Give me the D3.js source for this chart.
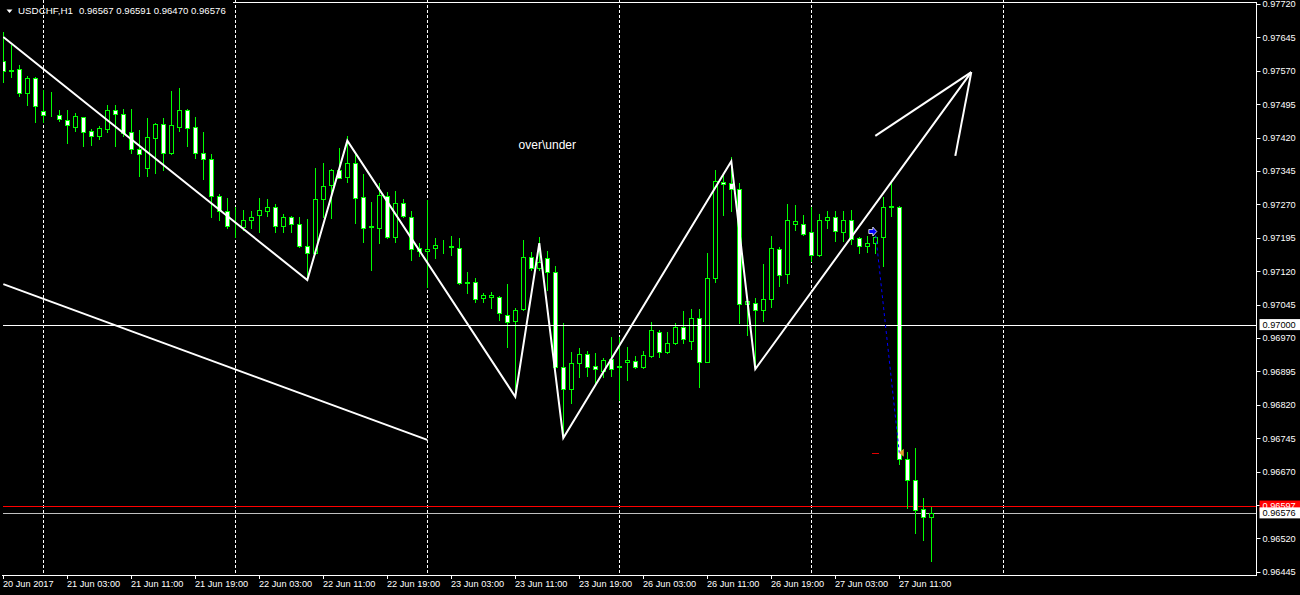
<!DOCTYPE html>
<html><head><meta charset="utf-8">
<script src="https://cdn.jsdelivr.net/npm/d3@7"></script>
<style>html,body{margin:0;padding:0;background:#000;overflow:hidden}</style>
</head><body>
<svg id="c" width="1300" height="595"></svg>
<script>
// ---------- DATA ----------
const symbolTitle = "USDCHF,H1";
const titleOHLC = "0.96567 0.96591 0.96470 0.96576";

const opens = [0.97592,0.97570,0.97574,0.97520,0.97554,0.97480,0.97470,0.97471,0.97459,0.97444,
0.97466,0.97434,0.97424,0.97440,0.97481,0.97472,0.97432,0.97394,0.97352,0.97420,
0.97450,0.97386,0.97444,0.97481,0.97443,0.97385,0.97371,0.97289,0.97254,0.97221,
0.97220,0.97236,0.97245,0.97256,0.97263,0.97222,0.97242,0.97225,0.97177,0.97160,
0.97281,0.97313,0.97347,0.97331,0.97364,0.97286,0.97220,0.97216,0.97289,0.97196,
0.97272,0.97242,0.97171,0.97165,0.97171,0.97176,0.97175,0.97171,0.97094,0.97096,
0.97059,0.97063,0.97061,0.97022,0.97009,0.97034,0.97152,0.97127,0.97149,0.97117,
0.96905,0.96855,0.96913,0.96933,0.96907,0.96896,0.96922,0.96905,0.96915,0.96919,
0.96904,0.96930,0.96984,0.96938,0.96958,0.96994,0.96964,0.97014,0.96917,0.97104,
0.97321,0.97317,0.97304,0.97046,0.97049,0.97033,0.97057,0.97169,0.97113,0.97227,
0.97227,0.97209,0.97156,0.97236,0.97241,0.97207,0.97236,0.97194,0.97176,0.97184,
0.97197,0.97265,0.97265,0.96697,0.96651,0.96585,0.96567];
const highs = [0.97657,0.97627,0.97583,0.97558,0.97556,0.97527,0.97522,0.97482,0.97482,0.97475,
0.97467,0.97439,0.97446,0.97493,0.97493,0.97484,0.97484,0.97437,0.97463,0.97452,
0.97463,0.97525,0.97531,0.97484,0.97466,0.97433,0.97383,0.97293,0.97284,0.97265,
0.97257,0.97255,0.97284,0.97281,0.97271,0.97248,0.97244,0.97241,0.97237,0.97352,
0.97362,0.97349,0.97396,0.97424,0.97385,0.97338,0.97276,0.97317,0.97298,0.97300,
0.97281,0.97256,0.97183,0.97280,0.97194,0.97190,0.97200,0.97194,0.97117,0.97104,
0.97070,0.97074,0.97064,0.97091,0.97037,0.97190,0.97164,0.97197,0.97166,0.97132,
0.97003,0.96939,0.96947,0.96941,0.96936,0.96924,0.96973,0.96973,0.96949,0.96929,
0.96941,0.97006,0.96988,0.96984,0.97003,0.97031,0.97034,0.97034,0.97160,0.97347,
0.97336,0.97377,0.97317,0.97059,0.97059,0.97136,0.97199,0.97174,0.97271,0.97269,
0.97246,0.97263,0.97248,0.97254,0.97255,0.97254,0.97257,0.97196,0.97199,0.97199,
0.97287,0.97317,0.97266,0.96714,0.96723,0.96610,0.96591];
const lows = [0.97545,0.97555,0.97513,0.97493,0.97456,0.97456,0.97468,0.97458,0.97408,0.97435,
0.97402,0.97404,0.97417,0.97433,0.97402,0.97424,0.97386,0.97334,0.97334,0.97341,
0.97347,0.97382,0.97435,0.97400,0.97375,0.97328,0.97242,0.97235,0.97216,0.97196,
0.97212,0.97216,0.97209,0.97244,0.97209,0.97209,0.97209,0.97175,0.97103,0.97158,
0.97242,0.97239,0.97329,0.97321,0.97229,0.97186,0.97123,0.97184,0.97194,0.97186,
0.97242,0.97145,0.97154,0.97085,0.97149,0.97161,0.97156,0.97092,0.97070,0.97051,
0.97051,0.97037,0.97010,0.96950,0.96838,0.97033,0.97123,0.97123,0.97078,0.96903,
0.96748,0.96823,0.96883,0.96884,0.96868,0.96883,0.96884,0.96831,0.96876,0.96902,
0.96902,0.96928,0.96928,0.96937,0.96957,0.96959,0.96945,0.96860,0.96915,0.97096,
0.97246,0.97254,0.97003,0.96977,0.96902,0.97009,0.97039,0.97087,0.97093,0.97212,
0.97201,0.97143,0.97154,0.97216,0.97188,0.97188,0.97181,0.97160,0.97164,0.97161,
0.97132,0.97244,0.96688,0.96587,0.96532,0.96516,0.96470];
const closes = [0.97570,0.97572,0.97520,0.97554,0.97491,0.97471,0.97471,0.97461,0.97448,0.97468,
0.97432,0.97424,0.97441,0.97482,0.97472,0.97431,0.97394,0.97382,0.97421,0.97450,
0.97386,0.97448,0.97481,0.97441,0.97386,0.97371,0.97289,0.97254,0.97222,0.97222,
0.97236,0.97242,0.97257,0.97263,0.97222,0.97241,0.97225,0.97177,0.97160,0.97281,
0.97311,0.97347,0.97330,0.97364,0.97284,0.97218,0.97221,0.97291,0.97196,0.97272,
0.97244,0.97169,0.97165,0.97169,0.97178,0.97177,0.97176,0.97093,0.97095,0.97057,
0.97066,0.97066,0.97025,0.97006,0.97033,0.97152,0.97126,0.97141,0.97117,0.96905,
0.96855,0.96914,0.96933,0.96905,0.96900,0.96920,0.96900,0.96906,0.96920,0.96904,
0.96932,0.96987,0.96938,0.96959,0.96994,0.96967,0.97014,0.96915,0.97104,0.97323,
0.97315,0.97304,0.97046,0.97053,0.97033,0.97057,0.97171,0.97111,0.97234,0.97233,
0.97203,0.97156,0.97236,0.97241,0.97210,0.97236,0.97192,0.97176,0.97183,0.97197,
0.97265,0.97266,0.96697,0.96651,0.96584,0.96568,0.96576];

const timeTickLabels = ["20 Jun 2017","21 Jun 03:00","21 Jun 11:00","21 Jun 19:00","22 Jun 03:00",
"22 Jun 11:00","22 Jun 19:00","23 Jun 03:00","23 Jun 11:00","23 Jun 19:00","26 Jun 03:00",
"26 Jun 11:00","26 Jun 19:00","27 Jun 03:00","27 Jun 11:00"];
const barsPerTimeTick = 8;
const priceTicks = [0.97720,0.97645,0.97570,0.97495,0.97420,0.97345,0.97270,0.97195,0.97120,
0.97045,0.96970,0.96895,0.96820,0.96745,0.96670,0.96595,0.96520,0.96445];
const gridBars = [5,29,53,77,101,125];

// drawn objects
const zigzagBars   = [0, 38, 43, 64, 67, 70, 91, 94, 121];
const zigzagPrices = [0.97646,0.97100,0.97413,0.96838,0.97183,0.96745,0.97367,0.96900,0.97567];
const trendBars   = [0, 53];
const trendPrices = [0.97091, 0.96741];
const arrowLeftBars = [109, 121],  arrowLeftPrices = [0.97424, 0.97567];
const arrowRightBars = [119, 121], arrowRightPrices = [0.97379, 0.97567];
const levelPrice = 0.97000;
const askPrice = 0.96597;
const bidPrice = 0.96576;
const textLabel = "over\\under", textBar = 68, textPrice = 0.97403;
const tradeOpenBar = 109, tradeOpenPrice = 0.97200;
const tradeCloseBar = 112, tradeClosePrice = 0.96712;
const tradeStopLoss = 0.96712;

// ---------- SCALES ----------
const svg = d3.select("#c");
const x = d3.scaleLinear().domain([0, 1]).range([3.3, 11.3]);
const y = d3.scaleLinear().domain([0.96445, 0.97720]).range([571.7, 4]);
const px = v => Math.round(v) + 0.5;
const fmt = d3.format(".5f");
const FONT = "'Liberation Sans', Arial, sans-serif";
const AX_R = 1256.5, AX_B = 575.5;

svg.append("rect").attr("width",1300).attr("height",595).attr("fill","#000");

const defs = svg.append("defs");
defs.append("clipPath").attr("id","plot").append("rect")
  .attr("x",3).attr("y",3).attr("width",AX_R-3).attr("height",AX_B-3);

// grid
svg.append("g").selectAll("line").data(gridBars).join("line")
  .attr("x1", d => px(x(d))).attr("x2", d => px(x(d)))
  .attr("y1", 0).attr("y2", AX_B)
  .attr("stroke","#fff").attr("stroke-width",1).attr("stroke-dasharray","3,2");

const plot = svg.append("g").attr("clip-path","url(#plot)");

// ask / bid lines
plot.append("line").attr("x1",0).attr("x2",AX_R).attr("y1",px(y(askPrice))+2).attr("y2",px(y(askPrice))+2)
  .attr("stroke","#ff0000");
plot.append("line").attr("x1",0).attr("x2",AX_R).attr("y1",px(y(bidPrice))).attr("y2",px(y(bidPrice)))
  .attr("stroke","#c0c0c0");

// candles
const idx = d3.range(opens.length);
const cg = plot.append("g");
cg.selectAll("line.w").data(idx).join("line").attr("class","w")
  .attr("x1", i => px(x(i))).attr("x2", i => px(x(i)))
  .attr("y1", i => Math.round(y(highs[i]))).attr("y2", i => Math.round(y(lows[i]))+1)
  .attr("stroke","#00ff00");
cg.selectAll("rect.b").data(idx).join("rect").attr("class","b")
  .attr("x", i => Math.round(x(i)) - 2 + 0.5)
  .attr("width", 4)
  .attr("y", i => Math.round(y(Math.max(opens[i], closes[i]))) + 0.5)
  .attr("height", i => Math.max(0, Math.round(y(Math.min(opens[i], closes[i]))) - Math.round(y(Math.max(opens[i], closes[i])))))
  .attr("fill", i => closes[i] < opens[i] ? "#fff" : "#000")
  .attr("stroke","#00ff00").attr("stroke-width",1);

// level line
plot.append("line").attr("x1",0).attr("x2",AX_R).attr("y1",px(y(levelPrice))).attr("y2",px(y(levelPrice)))
  .attr("stroke","#fff");

// trendlines
const line = d3.line().x(d => x(d[0])).y(d => y(d[1]));
const lineStyle = sel => sel.attr("fill","none").attr("stroke","#fff").attr("stroke-width",2);
plot.append("path").datum(d3.zip(zigzagBars, zigzagPrices)).attr("d", line).call(lineStyle);
plot.append("path").datum(d3.zip(trendBars, trendPrices)).attr("d", line).call(lineStyle);
plot.append("path").datum(d3.zip(arrowLeftBars, arrowLeftPrices)).attr("d", line).call(lineStyle);
plot.append("path").datum(d3.zip(arrowRightBars, arrowRightPrices)).attr("d", line).call(lineStyle);

// trade history
plot.append("line")
  .attr("x1", x(tradeOpenBar)+0.5).attr("y1", y(tradeOpenPrice))
  .attr("x2", x(tradeCloseBar)).attr("y2", y(tradeClosePrice))
  .attr("stroke","#0000ff").attr("stroke-dasharray","3,3");
plot.append("line")
  .attr("x1", Math.round(x(tradeOpenBar))-3).attr("x2", Math.round(x(tradeOpenBar))+4)
  .attr("y1", px(y(tradeStopLoss))).attr("y2", px(y(tradeStopLoss)))
  .attr("stroke","#e00000");
{
  const tx = x(tradeOpenBar)+1.5, ty = y(tradeOpenPrice)-4;
  plot.append("path")
    .attr("d", `M${tx},${ty} L${tx-4},${ty-4.5} L${tx-4},${ty-2} L${tx-8},${ty-2} L${tx-8},${ty+2} L${tx-4},${ty+2} L${tx-4},${ty+4.5} Z`)
    .attr("fill","#0000ff").attr("stroke","#fff").attr("stroke-width",0.8);
  const cx = x(tradeCloseBar)-0.5, cy = y(tradeClosePrice);
  plot.append("path")
    .attr("d", `M${cx},${cy} L${cx+5},${cy-4} L${cx+5},${cy+4} Z`)
    .attr("fill","#e0a030");
}

// text object
plot.append("text").attr("x", x(textBar)).attr("y", y(textPrice)+4)
  .attr("text-anchor","middle").attr("fill","#fff")
  .attr("font-family",FONT).attr("font-size","12px").text(textLabel);

// ---------- AXES ----------
svg.append("line").attr("x1",233).attr("x2",AX_R).attr("y1",2.5).attr("y2",2.5).attr("stroke","#fff");
svg.append("line").attr("x1",AX_R).attr("x2",AX_R).attr("y1",2).attr("y2",AX_B+0.5).attr("stroke","#fff");
svg.append("line").attr("x1",2).attr("x2",AX_R).attr("y1",AX_B).attr("y2",AX_B).attr("stroke","#fff");

// price axis
const pa = svg.append("g");
pa.selectAll("line").data(priceTicks).join("line")
  .attr("x1",AX_R).attr("x2",AX_R+4).attr("y1", d => px(y(d))).attr("y2", d => px(y(d)))
  .attr("stroke","#fff");
pa.selectAll("text").data(priceTicks).join("text")
  .attr("x", AX_R+6).attr("y", d => y(d)+3.4)
  .attr("fill","#fff").attr("font-family",FONT).attr("font-size","9.2px")
  .text(d => fmt(d));

// price labels for lines
function priceBox(p, top, bg, fg){
  svg.append("rect").attr("x",AX_R+3).attr("y",top).attr("width",1300-AX_R-3).attr("height",11).attr("fill",bg);
  svg.append("text").attr("x",AX_R+6).attr("y",top+8.9).attr("fill",fg)
    .attr("font-family",FONT).attr("font-size","9.2px").text(fmt(p));
}
priceBox(levelPrice, y(levelPrice)-5.5, "#fff", "#000");
priceBox(askPrice, y(askPrice)-3.5, "#ff0000", "#fff");
priceBox(bidPrice, y(bidPrice)-6, "#fff", "#000");

// time axis
const tickIdx = timeTickLabels.map((_, k) => k * barsPerTimeTick);
const ta = svg.append("g");
ta.selectAll("line").data(tickIdx).join("line")
  .attr("x1", d => px(x(d))).attr("x2", d => px(x(d))).attr("y1",AX_B).attr("y2",AX_B+3.5)
  .attr("stroke","#fff");
ta.selectAll("text").data(timeTickLabels).join("text")
  .attr("x", (d,k) => x(tickIdx[k]) - 0.3).attr("y", 587)
  .attr("fill","#fff").attr("font-family",FONT).attr("font-size","9.2px")
  .text(d => d);

// title
svg.append("path").attr("d","M6.5,9.5 L12.5,9.5 L9.5,13 Z").attr("fill","#fff");
svg.append("text").attr("x",18).attr("y",14).attr("fill","#fff")
  .attr("font-family",FONT).attr("font-size","9.8px").text(symbolTitle);
svg.append("text").attr("x",79).attr("y",14).attr("fill","#fff")
  .attr("font-family",FONT).attr("font-size","9.6px").text(titleOHLC);
</script>
</body></html>
